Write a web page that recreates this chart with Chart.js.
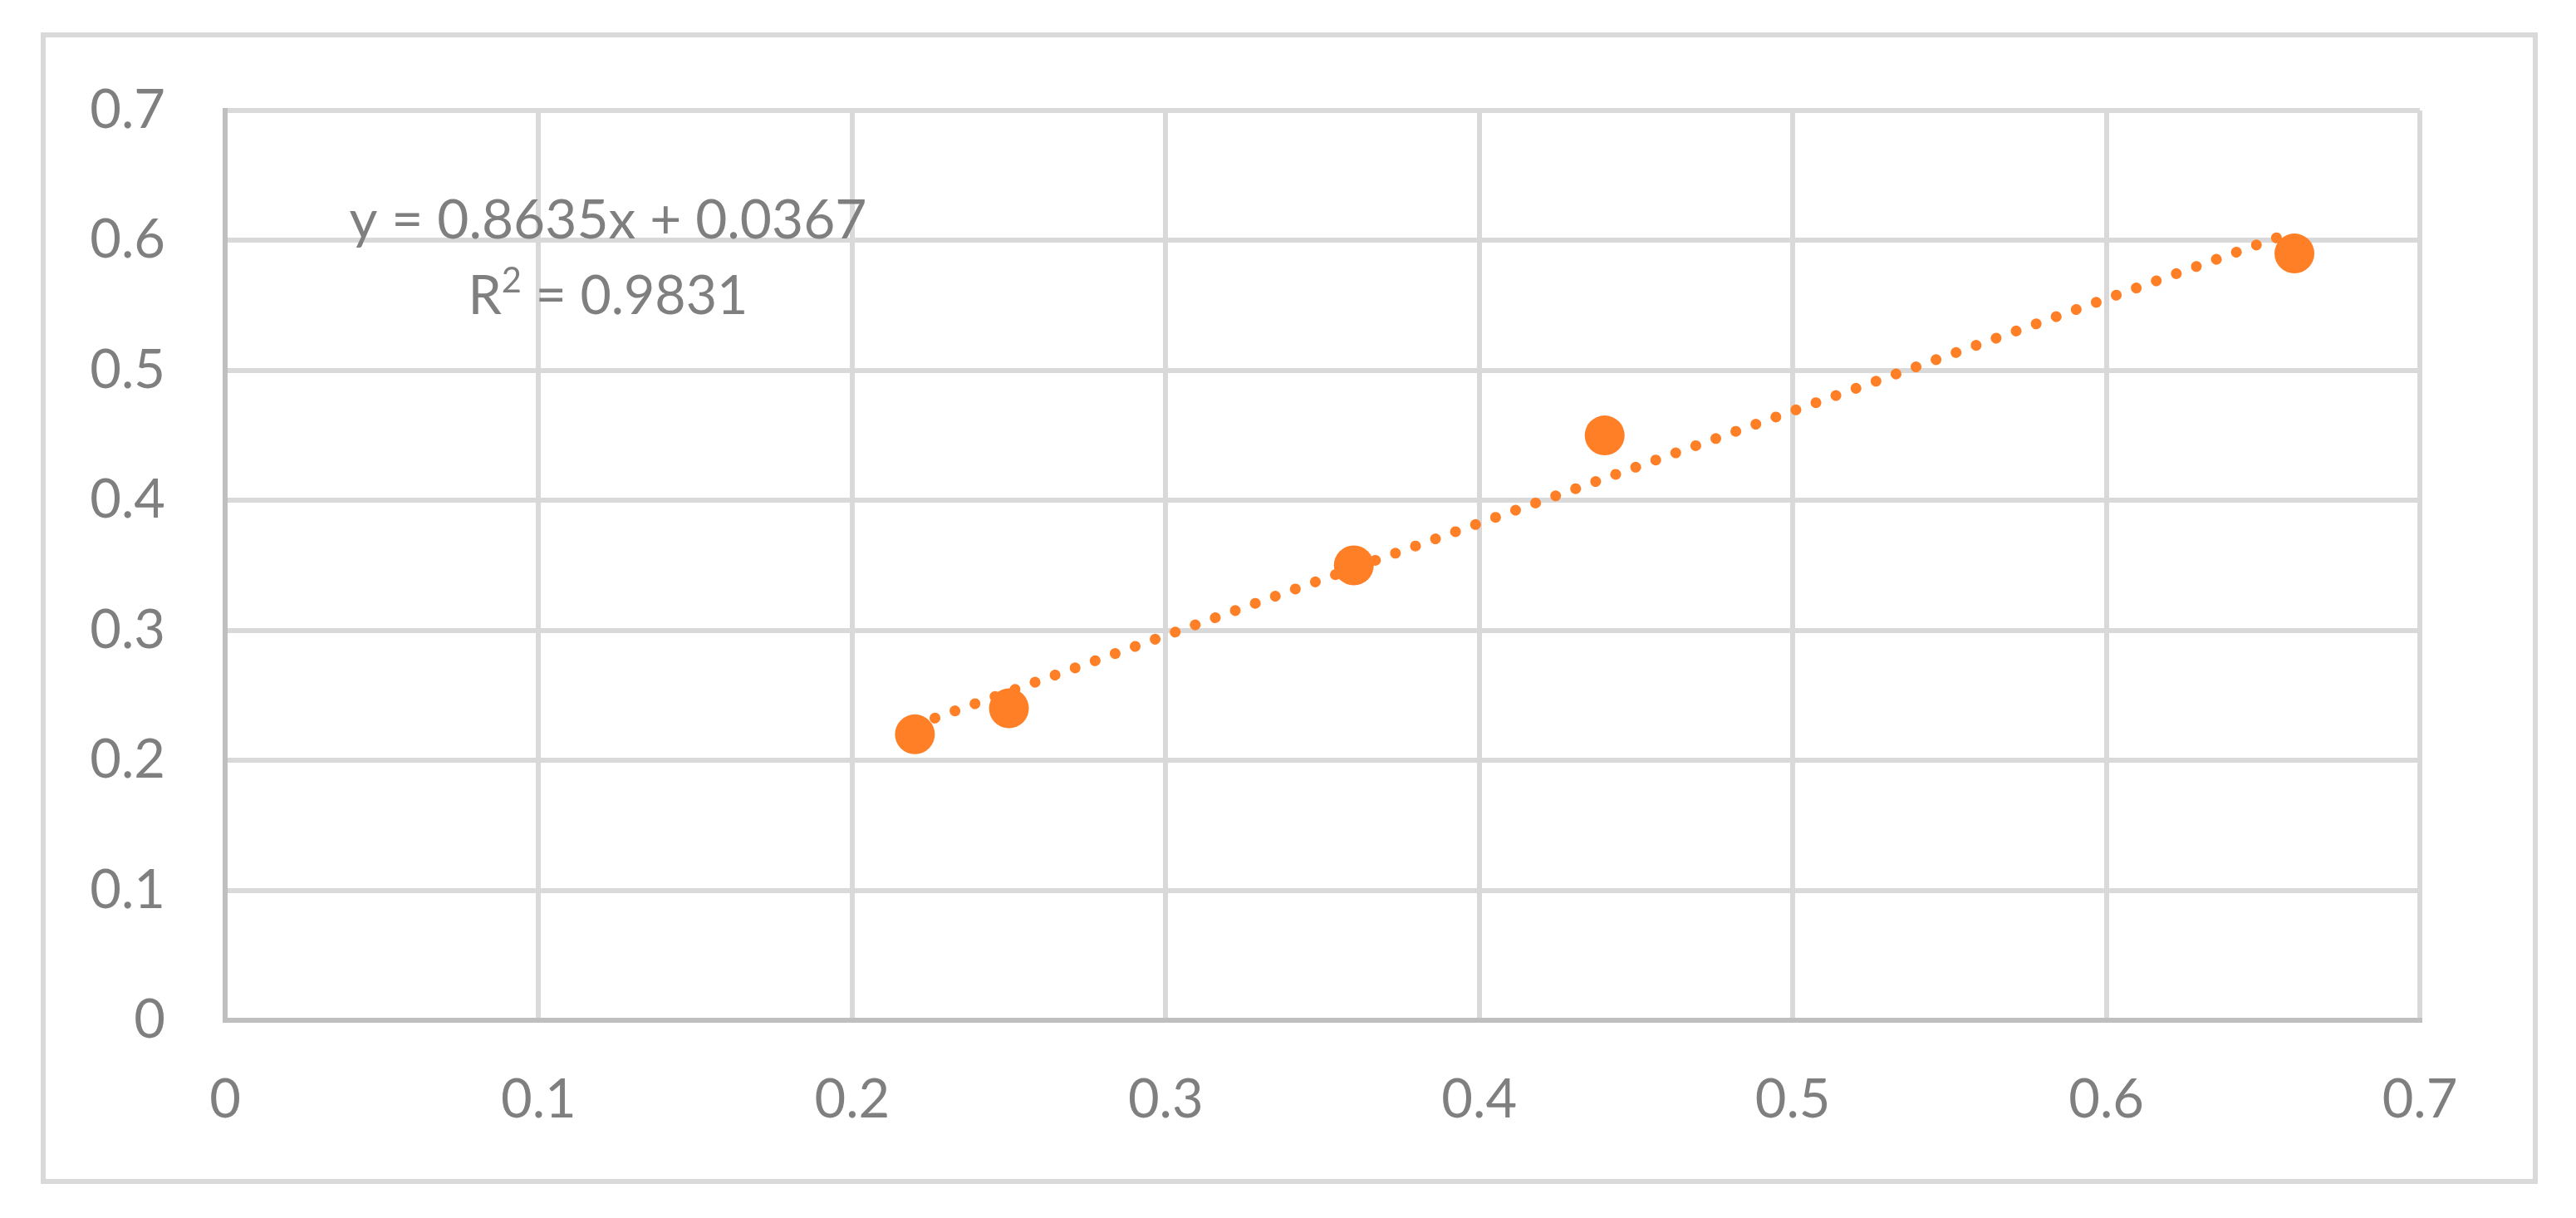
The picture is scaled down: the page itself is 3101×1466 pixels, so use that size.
<!DOCTYPE html>
<html>
<head>
<meta charset="utf-8">
<script src="https://cdn.jsdelivr.net/npm/chart.js@4/dist/chart.umd.min.js"></script>
<style>
  html,body{margin:0;padding:0;background:#fff;}
  #wrap{width:3101px;height:1466px;}
</style>
</head>
<body>
<div id="wrap"><canvas id="chart" width="3101" height="1466"></canvas></div>
<script>
// DATA
const xValues = [0.22, 0.25, 0.36, 0.44, 0.66];
const yValues = [0.22, 0.24, 0.35, 0.45, 0.59];
const trendX = [0.22, 0.66];
const trendY = [0.227, 0.607];
const xTicks = ['0', '0.1', '0.2', '0.3', '0.4', '0.5', '0.6', '0.7'];
const yTicks = ['0', '0.1', '0.2', '0.3', '0.4', '0.5', '0.6', '0.7'];
const eqLine = 'y = 0.8635x + 0.0367';
const r2Value = ' = 0.9831';

const GRAY = '#7f7f7f';
const FONT = 'Lato, Calibri, Carlito, sans-serif';

// outer frame + trendline equation
const frame = {
  id:'frame',
  beforeDraw(chart){
    const c = chart.ctx;
    c.save();
    c.fillStyle='#fff';
    c.fillRect(0,0,chart.width,chart.height);
    c.strokeStyle='#d9d9d9';
    c.lineWidth=6;
    c.strokeRect(52,42,3000,1380);
    c.restore();
  },
  afterDraw(chart){
    const c = chart.ctx;
    c.save();
    c.fillStyle=GRAY;
    c.textBaseline='alphabetic';
    // line 1, stretched to the reference width
    c.font='65px '+FONT;
    c.textAlign='center';
    const w1=c.measureText(eqLine).width;
    c.save();
    c.translate(732,287);
    c.scale(623/w1,1);
    c.fillText(eqLine,0,0);
    c.restore();
    // line 2: R + superscript 2 + value
    c.textAlign='left';
    const wR=c.measureText('R').width;
    const wV=c.measureText(r2Value).width;
    c.font='42px '+FONT;
    const w2=c.measureText('2').width;
    const tot=wR+w2+wV;
    const k=337/tot;
    c.save();
    c.translate(732-337/2,378);
    c.scale(k,1);
    c.font='65px '+FONT;
    c.fillText('R',0,0);
    c.font='42px '+FONT;
    c.fillText('2',wR,-26);
    c.font='65px '+FONT;
    c.fillText(r2Value,wR+w2,0);
    c.restore();
    c.restore();
  }
};

new Chart(document.getElementById('chart'),{
  type:'scatter',
  data:{
    datasets:[
      {
        label:'trend',
        data:trendX.map((x,i)=>({x,y:trendY[i]})),
        showLine:true,
        borderColor:'#ff7f27',
        borderWidth:13,
        borderDash:[0.1,25.5],
        borderCapStyle:'round',
        pointRadius:0,
        fill:false
      },
      {
        label:'data',
        data:xValues.map((x,i)=>({x,y:yValues[i]})),
        backgroundColor:'#ff7f27',
        borderWidth:0,
        pointRadius:24,
        pointHoverRadius:24
      }
    ]
  },
  options:{
    responsive:false,
    devicePixelRatio:1,
    animation:false,
    layout:{padding:{left:0,right:188,top:133,bottom:0}},
    plugins:{legend:{display:false},tooltip:{enabled:false}},
    scales:{
      x:{
        type:'linear',min:0,max:0.7,
        afterBuildTicks(s){ s.ticks = xTicks.map(v=>({value:Number(v)})); },
        afterFit(s){ s.height = 238; },
        ticks:{color:GRAY,font:{family:FONT,size:65},padding:57,
          callback:(v,i)=>xTicks[i]},
        grid:{color:'#d9d9d9',lineWidth:6,drawTicks:false},
        border:{color:'#bfbfbf',width:6}
      },
      y:{
        type:'linear',min:0,max:0.7,
        afterBuildTicks(s){ s.ticks = yTicks.map(v=>({value:Number(v)})); },
        afterFit(s){ s.width = 271; },
        ticks:{color:GRAY,font:{family:FONT,size:65},padding:72,
          callback:(v,i)=>yTicks[i]},
        grid:{color:'#d9d9d9',lineWidth:6,drawTicks:false},
        border:{color:'#bfbfbf',width:6}
      }
    }
  },
  plugins:[frame]
});
</script>
</body>
</html>
